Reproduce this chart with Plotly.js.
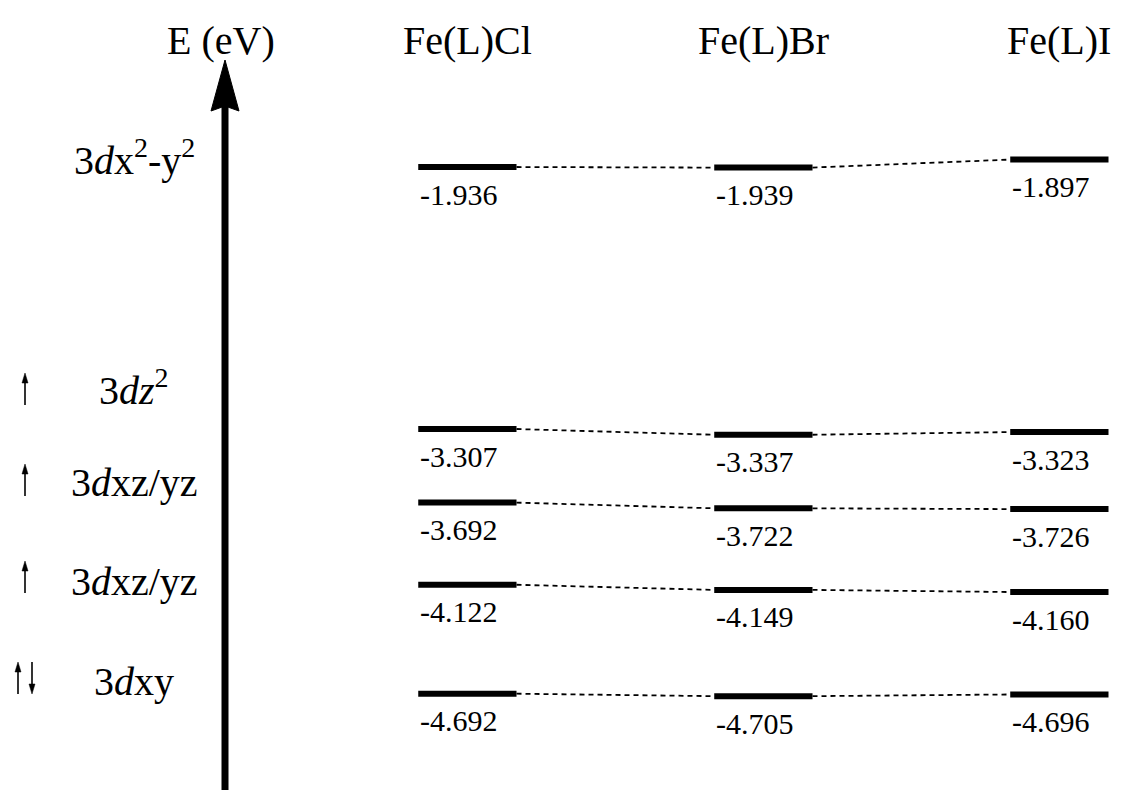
<!DOCTYPE html>
<html>
<head>
<meta charset="utf-8">
<script src="https://cdn.plot.ly/plotly-3.0.1.min.js"></script>
<style>html,body{margin:0;padding:0;background:#fff;}#chart{width:1123px;height:790px;}</style>
</head>
<body>
<div id="chart"></div>
<script>
// ---- data ----
const compounds = ['Fe(L)Cl', 'Fe(L)Br', 'Fe(L)I'];
const orbitalLabels = ['3<i>d</i>x<sup>2</sup>-y<sup>2</sup>', '3<i>dz</i><sup>2</sup>', '3<i>d</i>xz/yz', '3<i>d</i>xz/yz', '3<i>d</i>xy'];
const energyCl = [-1.936, -3.307, -3.692, -4.122, -4.692];
const energyBr = [-1.939, -3.337, -3.722, -4.149, -4.705];
const energyI  = [-1.897, -3.323, -3.726, -4.160, -4.696];
const spinUp   = [0, 1, 1, 1, 1];
const spinDown = [0, 0, 0, 0, 1];
const energies = [energyCl, energyBr, energyI];

// ---- layout helpers ----
const W = 1123, H = 790;
const px = x => x / W;
const py = y => 1 - y / H;
const FONT = '"Liberation Serif"';
const half = 0.166;

const traces = [];
// level bars
energies.forEach((arr, c) => {
  arr.forEach((e, k) => {
    traces.push({x: [c - half, c + half], y: [e, e], mode: 'lines', type: 'scatter',
      line: {color: '#000', width: 6}, hoverinfo: 'skip', showlegend: false});
  });
});
// dashed connectors
for (let c = 0; c < energies.length - 1; c++) {
  energies[c].forEach((e, k) => {
    traces.push({x: [c + half, c + 1 - half], y: [e, energies[c + 1][k]], mode: 'lines', type: 'scatter',
      line: {color: '#000', width: 1.8, dash: '5px,4px'}, hoverinfo: 'skip', showlegend: false});
  });
}

const annotations = [];
// value labels
energies.forEach((arr, c) => {
  arr.forEach((e, k) => {
    annotations.push({x: c - half, y: e, xref: 'x', yref: 'y', text: e.toFixed(3),
      showarrow: false, xanchor: 'left', yanchor: 'middle', yshift: -27, xshift: 0,
      font: {family: FONT, size: 30, color: '#000'}});
  });
});
// compound headers
compounds.forEach((name, c) => {
  annotations.push({x: c, y: py(40), xref: 'x', yref: 'paper', text: name, showarrow: false,
    xanchor: 'center', yanchor: 'middle', font: {family: FONT, size: 40, color: '#000'}});
});
// axis title
annotations.push({x: px(221), y: py(40), xref: 'paper', yref: 'paper', text: 'E (eV)', showarrow: false,
  xanchor: 'center', yanchor: 'middle', font: {family: FONT, size: 40, color: '#000'}});
// orbital labels
const orbitalY = [158, 388, 482, 581, 681];
orbitalLabels.forEach((t, k) => {
  annotations.push({x: px(134), y: py(orbitalY[k]), xref: 'paper', yref: 'paper', text: t, showarrow: false,
    xanchor: 'center', yanchor: 'middle', font: {family: FONT, size: 40, color: '#000'}});
});

const shapes = [
  {type: 'line', xref: 'paper', yref: 'paper', x0: px(225), x1: px(225), y0: 0, y1: py(105),
    line: {color: '#000', width: 7}},
  {type: 'path', xref: 'paper', yref: 'paper',
    path: `M ${px(211)} ${py(111)} L ${px(225)} ${py(60)} L ${px(239)} ${py(111)} L ${px(225)} ${py(106)} Z`,
    fillcolor: '#000', line: {color: '#000', width: 1}}
];

// spin arrows (shapes: shaft + small head)
function spinArrow(x, yHead, yTail) {
  const dir = yTail > yHead ? 1 : -1; // 1 = pointing up
  const headLen = 10, headHalf = 3;
  shapes.push({type: 'line', xref: 'paper', yref: 'paper', x0: px(x), x1: px(x),
    y0: py(yTail), y1: py(yHead + dir * headLen * 0.6), line: {color: '#000', width: 1.6}});
  shapes.push({type: 'path', xref: 'paper', yref: 'paper',
    path: `M ${px(x - headHalf)} ${py(yHead + dir * headLen)} L ${px(x)} ${py(yHead)} L ${px(x + headHalf)} ${py(yHead + dir * headLen)} Z`,
    fillcolor: '#000', line: {color: '#000', width: 0.5}});
}
const spinHeadY = [0, 373, 464, 561, 662];
const L = 32;
orbitalLabels.forEach((t, k) => {
  if (spinUp[k] && !spinDown[k]) {
    spinArrow(25, spinHeadY[k], spinHeadY[k] + L);
  } else if (spinUp[k] && spinDown[k]) {
    spinArrow(18, spinHeadY[k], spinHeadY[k] + L);
    spinArrow(32, spinHeadY[k] + L, spinHeadY[k]);
  }
});

const layout = {
  width: W, height: H,
  margin: {l: 0, r: 0, t: 0, b: 0},
  paper_bgcolor: '#fff', plot_bgcolor: '#fff',
  xaxis: {range: [-1.579, 2.215], visible: false, fixedrange: true},
  yaxis: {range: [-5.196, -1.062], visible: false, fixedrange: true},
  showlegend: false,
  annotations: annotations,
  shapes: shapes
};

Plotly.newPlot('chart', traces, layout, {displayModeBar: false, staticPlot: true});
</script>
</body>
</html>
